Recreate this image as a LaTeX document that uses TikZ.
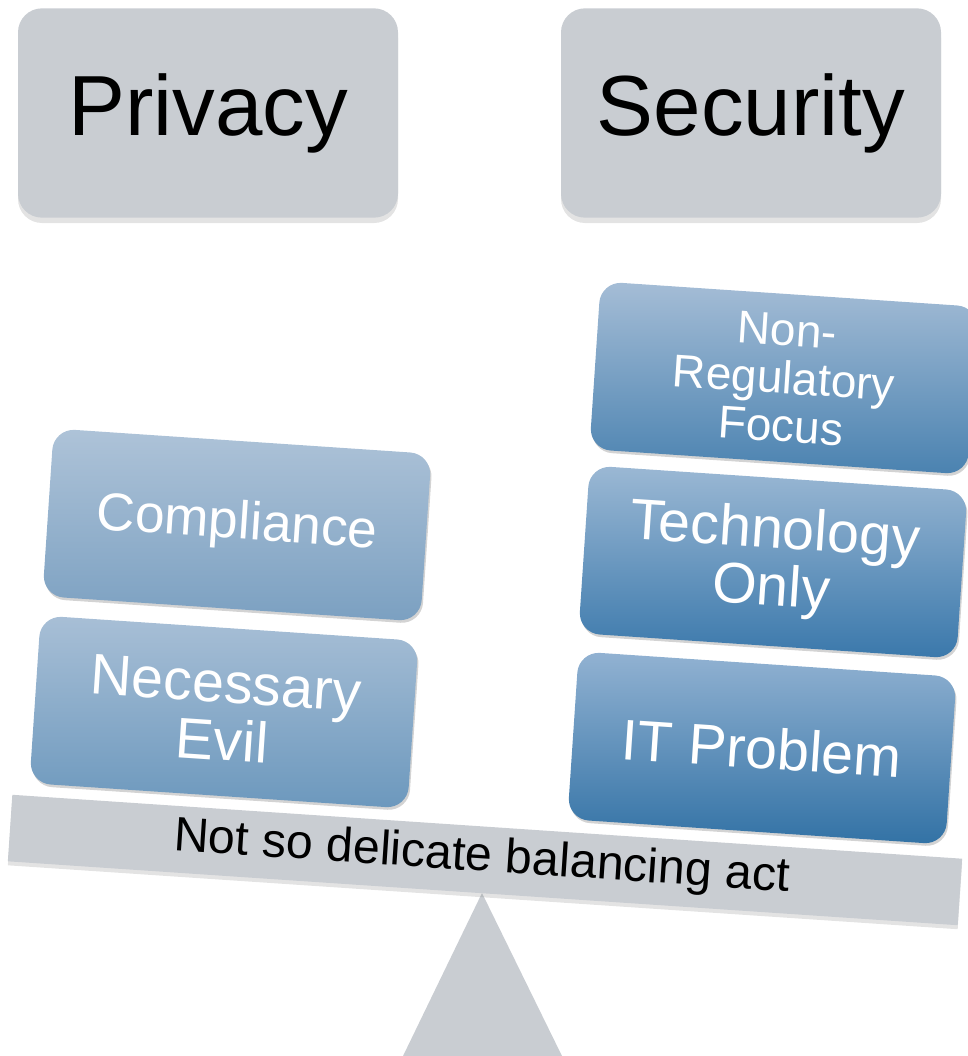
\documentclass[tikz,border=0pt]{standalone}
\usepackage{fontspec}
\setmainfont{Liberation Sans}
\usetikzlibrary{shadows}

\definecolor{panelgray}{HTML}{C9CDD2}
\definecolor{compTop}{HTML}{AEC3D8}\definecolor{compBot}{HTML}{7BA0C1}
\definecolor{necTop}{HTML}{A8BFD6}\definecolor{necBot}{HTML}{6C98BD}
\definecolor{nonTop}{HTML}{A5BDD6}\definecolor{nonBot}{HTML}{4A82B0}
\definecolor{techTop}{HTML}{9BB8D4}\definecolor{techBot}{HTML}{3A78AB}
\definecolor{itTop}{HTML}{92B2D2}\definecolor{itBot}{HTML}{3272A5}

\begin{document}
\begin{tikzpicture}[x=0.75pt,y=-0.75pt,
  header/.style={fill=panelgray, rounded corners=18pt, minimum width=285pt,
    minimum height=157pt, inner sep=0pt, font=\fontsize{64}{64}\selectfont,
    drop shadow={opacity=0.22, shadow xshift=0pt, shadow yshift=-4pt}},
  block/.style={rounded corners=16pt, minimum width=284pt, minimum height=126pt,
    inner sep=0pt, rotate=-3.85, text=white, align=center,
    drop shadow={opacity=0.35, shadow xshift=1pt, shadow yshift=-2pt}},
  big/.style={font=\fontsize{43}{43}\selectfont},
  mid/.style={font=\fontsize{40}{39}\selectfont},
  small/.style={font=\fontsize{34.5}{36}\selectfont}]
\useasboundingbox (0,0) rectangle (967,1056);

% headers
\node[header] (privacy)  at (208,113) {Privacy};
\node[header] (security) at (751,113) {Security};

% fulcrum, behind the beam
\coordinate (apex) at (482,893);
\fill[panelgray] (apex) -- (403,1056) -- (562,1056) -- cycle;

% beam
\node[fill=panelgray, minimum width=714pt, minimum height=50pt, inner sep=0pt,
  rotate=-3.85, drop shadow={opacity=0.22, shadow xshift=0pt, shadow yshift=-3pt}]
  (beam) at (485,860) {};
\node[rotate=-3.85, anchor=base, font=\fontsize{36.2}{36}\selectfont, inner sep=0pt]
  (beamtext) at (481,871) {Not so delicate balancing act};

% left stack
\node[block, mid, top color=compTop, bottom color=compBot] (comp) at (237,525) {Compliance};
\node[block, big, top color=necTop, bottom color=necBot] (nec) at (224,712) {Necessary\\Evil};

% right stack
\node[block, small, top color=nonTop, bottom color=nonBot] (non) at (784,378) {Non-\\Regulatory\\Focus};
\node[block, big, top color=techTop, bottom color=techBot] (tech) at (773,562) {Technology\\Only};
\node[block, big, top color=itTop, bottom color=itBot] (it) at (762,748) {IT Problem};
\end{tikzpicture}
\end{document}
